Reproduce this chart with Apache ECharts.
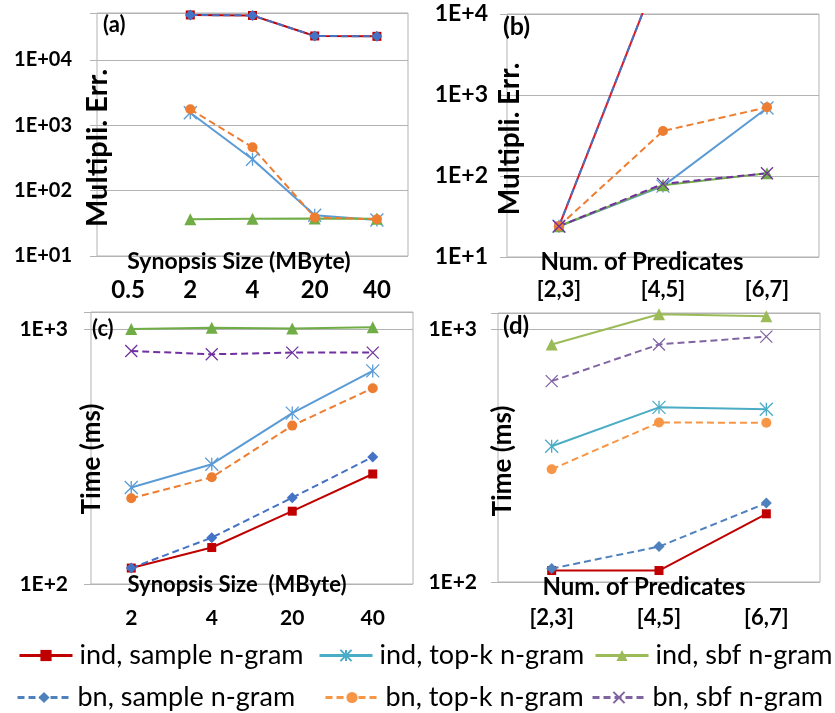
<!DOCTYPE html>
<html><head><meta charset="utf-8">
<script src="https://cdn.jsdelivr.net/npm/echarts@6/dist/echarts.min.js"></script>
<style>html,body{margin:0;padding:0;background:#fff}#c{width:835px;height:713px}</style>
</head><body><div id="c"></div>
<script>
// ---------- categories & tick labels ----------
const sizesA = ['0.5', '2', '4', '20', '40'];
const sizesC = ['2', '4', '20', '40'];
const preds = ['[2,3]', '[4,5]', '[6,7]'];
const yTicksA = ['1E+01', '1E+02', '1E+03', '1E+04']; // exponents 1..4
const yTicksB = ['1E+1', '1E+2', '1E+3', '1E+4'];     // exponents 1..4
const yTicksCD = ['1E+2', '1E+3'];                    // exponents 2..3
const seriesNames = ['ind, sample n-gram', 'ind, top-k n-gram', 'ind, sbf n-gram',
                     'bn, sample n-gram', 'bn, top-k n-gram', 'bn, sbf n-gram'];

// ---------- (a) Multipli. Err. vs synopsis size ----------
const indSampleA = [null, 48900, 48000, 23300, 23000];
const indTopkA   = [null, 1560, 302, 42, 35.6];
const indSbfA    = [null, 36.4, 37.2, 37.5, 37];
const bnSampleA  = [null, 48900, 48000, 23300, 23000];
const bnTopkA    = [null, 1760, 461, 39, 36.4];
const bnSbfA     = [null, null, null, null, null];

// ---------- (b) Multipli. Err. vs num. of predicates ----------
const indSampleB = [24, 45000, 50000];
const indTopkB   = [24, 75, 690];
const indSbfB    = [24, 77, 108];
const bnSampleB  = [24, 45000, 50000];
const bnTopkB    = [24, 359, 705];
const bnSbfB     = [24, 80, 108];

// ---------- (c) Time vs synopsis size ----------
const indSampleC = [115.5, 139, 193, 270];
const indTopkC   = [239, 295, 468, 685];
const indSbfC    = [1000, 1012, 1005, 1015];
const bnSampleC  = [115.5, 152, 218, 315];
const bnTopkC    = [217, 262, 418, 586];
const bnSbfC     = [820, 796, 808, 808];

// ---------- (d) Time vs num. of predicates ----------
const indSampleD = [111, 111, 186];
const indTopkD   = [344, 490, 482];
const indSbfD    = [869, 1143, 1122];
const bnSampleD  = [113, 138, 205];
const bnTopkD    = [279, 427, 426];
const bnSbfD     = [622, 869, 933];

// ---------- styles ----------
const FONT = 'Lato';
const GRAY = '#b3b3b3';
const STAR = 'path://M0,0L10,10M10,0L0,10M5,0L5,10';
const XMARK = 'path://M0,0L10,10M10,0L0,10';
const DASH = [7, 4];
const styleABC = [
  {color: '#C00000', symbol: 'rect', size: 9, dash: false, stroke: 0},
  {color: '#5B9BD5', symbol: STAR, size: 13, dash: false, stroke: 1.3},
  {color: '#70AD47', symbol: 'triangle', size: 12, dash: false, stroke: 0},
  {color: '#4472C4', symbol: 'diamond', size: 11, dash: true, stroke: 0},
  {color: '#ED7D31', symbol: 'circle', size: 10, dash: true, stroke: 0},
  {color: '#7030A0', symbol: XMARK, size: 12, dash: true, stroke: 1.3}
];
const styleB = styleABC.map((s, i) => i === 0 ? Object.assign({}, s, {color: '#E8141B'}) : s);
const styleD = [
  {color: '#C00000', symbol: 'rect', size: 9, dash: false, stroke: 0},
  {color: '#4BACC6', symbol: STAR, size: 13, dash: false, stroke: 1.3},
  {color: '#9BBB59', symbol: 'triangle', size: 12, dash: false, stroke: 0},
  {color: '#4F81BD', symbol: 'diamond', size: 11, dash: true, stroke: 0},
  {color: '#F79646', symbol: 'circle', size: 10, dash: true, stroke: 0},
  {color: '#8064A2', symbol: XMARK, size: 12, dash: true, stroke: 1.3}
];

function mkSeries(gi, datas, styles) {
  return datas.map((d, i) => {
    const s = styles[i];
    return {
      type: 'line', name: seriesNames[i], xAxisIndex: gi, yAxisIndex: gi, data: d,
      symbol: s.symbol, symbolSize: s.size, showSymbol: true, connectNulls: false,
      clip: true, animation: false,
      lineStyle: {color: s.color, width: 2, type: s.dash ? DASH : 'solid'},
      itemStyle: {color: s.color, borderColor: s.color, borderWidth: s.stroke, opacity: 1},
      emphasis: {disabled: true}
    };
  });
}

function logFmt(labels, firstExp) {
  return function (v) {
    const l = Math.log10(v);
    const e = Math.round(l);
    if (Math.abs(l - e) > 1e-6) return '';
    const idx = e - firstExp;
    return (idx >= 0 && idx < labels.length) ? labels[idx] : '';
  };
}

const grids = [
  {left: 97, top: 13, width: 311, height: 243},
  {left: 507, top: 14, width: 312, height: 243},
  {left: 91, top: 312, width: 322, height: 272},
  {left: 498, top: 313, width: 322, height: 269}
].map(g => Object.assign(g, {show: true, borderColor: GRAY, borderWidth: 1, containLabel: false}));

function xAx(gi, data, fs, margin) {
  return {
    type: 'category', gridIndex: gi, data: data, boundaryGap: true,
    axisLine: {show: false}, axisTick: {show: false}, splitLine: {show: false},
    axisLabel: {margin: margin, fontSize: fs, fontWeight: 'bold', fontFamily: FONT, color: '#000', interval: 0}
  };
}
function yAx(gi, min, max, labels, firstExp, fs, margin) {
  return {
    type: 'log', logBase: 10, gridIndex: gi, min: min, max: max,
    axisLine: {show: false},
    axisTick: {show: true, length: 7, lineStyle: {color: GRAY}},
    splitLine: {show: true, lineStyle: {color: GRAY, width: 1}},
    axisLabel: {margin: margin, fontSize: fs, fontWeight: 'bold', fontFamily: FONT, color: '#000',
                formatter: logFmt(labels, firstExp)}
  };
}

function txt(text, x, y, fs, rot, align) {
  return {
    type: 'text', x: x, y: y, rotation: rot || 0, z: 100,
    style: {text: text, fill: '#000', font: 'bold ' + fs + 'px ' + FONT,
            textAlign: align || 'center', textVerticalAlign: 'middle'}
  };
}

const legendPos = [
  [18, 642], [318, 642], [594, 642],
  [16, 684], [324, 684], [591, 684]
];
const legends = seriesNames.map((n, i) => ({
  data: [{name: n, lineStyle: {width: 3}}], left: legendPos[i][0], top: legendPos[i][1], padding: 0,
  itemWidth: 53, itemHeight: 14, itemGap: 0, selectedMode: false,
  textStyle: {fontSize: 27, fontFamily: FONT, color: '#000', padding: [0, 0, 0, 2]}
}));

const option = {
  backgroundColor: '#fff',
  animation: false,
  grid: grids,
  xAxis: [xAx(0, sizesA, 24, 22), xAx(1, preds, 22, 22), xAx(2, sizesC, 21, 24), xAx(3, preds, 22, 25)],
  yAxis: [
    yAx(0, 10, Math.pow(10, 4.719), yTicksA, 1, 20, 25),
    yAx(1, 10, 10000, yTicksB, 1, 23, 19),
    yAx(2, 100, Math.pow(10, 3.0667), yTicksCD, 2, 21, 23),
    yAx(3, 100, Math.pow(10, 3.0632), yTicksCD, 2, 21, 21)
  ],
  legend: legends,
  series: [].concat(
    mkSeries(3, [indSampleD, indTopkD, indSbfD, bnSampleD, bnTopkD, bnSbfD], styleD),
    mkSeries(0, [indSampleA, indTopkA, indSbfA, bnSampleA, bnTopkA, bnSbfA], styleABC),
    mkSeries(1, [indSampleB, indTopkB, indSbfB, bnSampleB, bnTopkB, bnSbfB], styleB),
    mkSeries(2, [indSampleC, indTopkC, indSbfC, bnSampleC, bnTopkC, bnSbfC], styleABC)
  ),
  graphic: [
    txt('(a)', 103, 25, 22, 0, 'left'),
    txt('(b)', 503, 27, 25, 0, 'left'),
    txt('(c)', 92, 329, 22, 0, 'left'),
    txt('(d)', 503, 326, 24, 0, 'left'),
    txt('Multipli. Err.', 98, 148, 29, Math.PI / 2),
    txt('Multipli. Err.', 510, 139, 28, Math.PI / 2),
    txt('Time (ms)', 92, 459, 26, Math.PI / 2),
    txt('Time (ms)', 503, 461, 26, Math.PI / 2),
    txt('Synopsis Size (MByte)', 239, 262, 23),
    txt('Num. of Predicates', 642, 262, 24),
    txt('Synopsis Size  (MByte)', 237, 585, 22),
    txt('Num. of Predicates', 644, 587, 24)
  ]
};

const chart = echarts.init(document.getElementById('c'), null, {renderer: 'canvas'});
chart.setOption(option);
</script>
</body></html>
